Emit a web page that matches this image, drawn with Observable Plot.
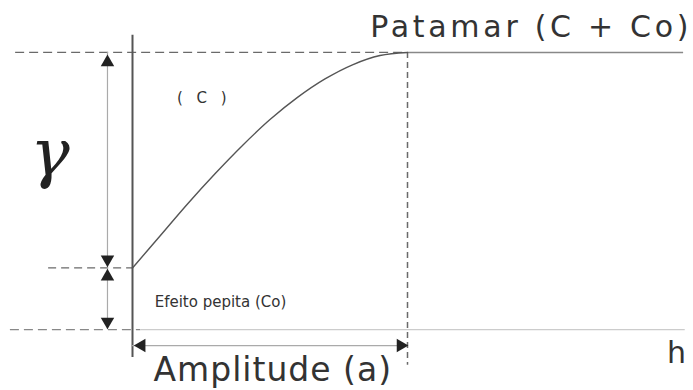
<!DOCTYPE html>
<html>
<head>
<meta charset="utf-8">
<script src="https://cdn.jsdelivr.net/npm/d3@7"></script>
<script src="https://cdn.jsdelivr.net/npm/@observablehq/plot@0.6"></script>
<style>
  html, body { margin: 0; padding: 0; background: #fff; }
  svg { display: block; }
</style>
</head>
<body>
<div id="chart"></div>
<script>
// Semivariogram parameters (in diagram units)
const nugget = 1;      // Co
const sill = 4.5;      // C + Co
const range = 10;      // a
// Curve (spherical-like shape)
const curveH = [0, 1, 2, 3, 4, 5, 6, 7, 8, 9, 10];
const curveG = [1, 1.52, 2.04, 2.53, 2.99, 3.41, 3.77, 4.07, 4.30, 4.45, 4.5];
// Labels
const labelTexts = ["Patamar (C + Co)", "( C )", "Efeito pepita (Co)", "Amplitude (a)", "h"];
const gammaLabel = "γ";

const curve = curveH.map((h, i) => ({h, g: curveG[i]}));
const arrowX = -0.91;
const ampY = -0.26;

const ink = "#555";
const dash = "#6a6a6a";
const head = "#222";
const font = "'DejaVu Sans', sans-serif";

const chart = Plot.plot({
  width: 693,
  height: 390,
  margin: 0,
  x: {domain: [-4.8, 20.4], axis: null},
  y: {domain: [-0.99, 5.344], axis: null},
  style: {background: "#fff"},
  marks: [
    // baseline (h axis)
    Plot.ruleY([0], {x1: -4.44, x2: 0.3, stroke: "#888", strokeDasharray: "9,5", strokeWidth: 1.3}),
    Plot.ruleY([0], {x1: 0.3, x2: 20.1, stroke: "#ccc", strokeWidth: 1.3}),
    // sill line
    Plot.ruleY([sill], {x1: -4.25, x2: range, stroke: dash, strokeDasharray: "9,5", strokeWidth: 1.3}),
    Plot.ruleY([sill], {x1: range, x2: 20.04, stroke: "#888", strokeWidth: 1.5}),
    // nugget line
    Plot.ruleY([nugget], {x1: -3.05, x2: 0, stroke: dash, strokeDasharray: "8,5", strokeWidth: 1.2}),
    // range vertical dashed
    Plot.ruleX([range], {y1: sill, y2: -0.58, stroke: dash, strokeDasharray: "6,4", strokeWidth: 1.5}),
    // gamma axis
    Plot.ruleX([0], {y1: -0.455, y2: 4.78, stroke: ink, strokeWidth: 2}),
    // double arrows (C) and (Co)
    Plot.ruleX([arrowX], {y1: nugget, y2: sill, stroke: "#aaa", strokeWidth: 1.2}),
    Plot.ruleX([arrowX], {y1: 0, y2: nugget, stroke: "#aaa", strokeWidth: 1.2}),
    Plot.dot([{h: arrowX, g: 4.34}, {h: arrowX, g: 0.86}], {x: "h", y: "g", symbol: "triangle", r: 5, fill: head, stroke: "none"}),
    Plot.dot([{h: arrowX, g: 1.14}, {h: arrowX, g: 0.13}], {x: "h", y: "g", symbol: "triangle", rotate: 180, r: 5, fill: head, stroke: "none"}),
    // amplitude arrow
    Plot.ruleY([ampY], {x1: 0, x2: range, stroke: "#aaa", strokeWidth: 1.2}),
    Plot.dot([{h: 0.33, g: ampY}], {x: "h", y: "g", symbol: "triangle", rotate: -90, r: 5, fill: head, stroke: "none"}),
    Plot.dot([{h: 9.75, g: ampY}], {x: "h", y: "g", symbol: "triangle", rotate: 90, r: 5, fill: head, stroke: "none"}),
    // model curve
    Plot.line(curve, {x: "h", y: "g", curve: "catmull-rom", stroke: ink, strokeWidth: 1.4}),
    // labels
    Plot.text([labelTexts[0]], {x: 20.35, y: 4.90, text: d => d, textAnchor: "end", fontSize: 30, fill: "#333", fontFamily: font}),
    Plot.text([labelTexts[1]], {x: 2.6, y: 3.75, text: d => d, fontSize: 15, fill: "#333", fontFamily: font}),
    Plot.text([labelTexts[2]], {x: 3.2, y: 0.44, text: d => d, fontSize: 15, fill: "#333", fontFamily: font}),
    Plot.text([labelTexts[3]], {x: 5.1, y: -0.66, text: d => d, fontSize: 33, fill: "#333", fontFamily: font}),
    Plot.text([labelTexts[4]], {x: 19.78, y: -0.38, text: d => d, fontSize: 30, fill: "#333", fontFamily: font}),
    Plot.text([gammaLabel], {x: -3.0, y: 2.85, text: d => d, fontSize: 66, fill: "#222", fontStyle: "italic", fontFamily: "'DejaVu Serif', serif"})
  ]
});
const spacing = {[labelTexts[0]]: "3.7px", [labelTexts[1]]: "4.5px", [labelTexts[3]]: "1px"};
d3.select(chart).selectAll("text").each(function() {
  const s = spacing[this.textContent];
  if (s) this.style.letterSpacing = s;
});
document.getElementById("chart").append(chart);
</script>
</body>
</html>
